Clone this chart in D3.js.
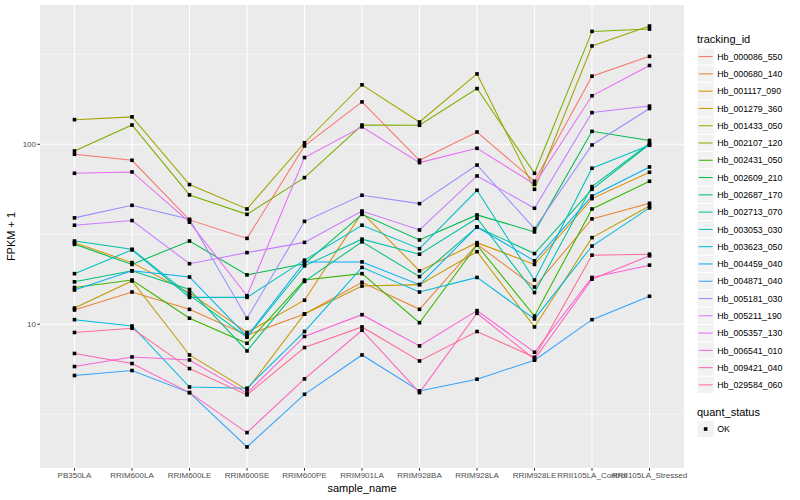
<!DOCTYPE html>
<html>
<head>
<meta charset="utf-8">
<script src="https://cdn.jsdelivr.net/npm/d3@7"></script>
<style>
body { margin: 0; background: #fff; }
text { font-family: "Liberation Sans", Arial, Helvetica, sans-serif; }
</style>
</head>
<body>
<div id="chart"></div>
<script>
var samples = ["PB350LA", "RRIM600LA", "RRIM600LE", "RRIM600SE", "RRIM600PE", "RRIM901LA",
    "RRIM928BA", "RRIM928LA", "RRIM928LE", "RRII105LA_Control", "RRII105LA_Stressed"];

var trackingIds = ["Hb_000086_550", "Hb_000680_140", "Hb_001117_090", "Hb_001279_360", "Hb_001433_050",
    "Hb_002107_120", "Hb_002431_050", "Hb_002609_210", "Hb_002687_170", "Hb_002713_070",
    "Hb_003053_030", "Hb_003623_050", "Hb_004459_040", "Hb_004871_040", "Hb_005181_030",
    "Hb_005211_190", "Hb_005357_130", "Hb_006541_010", "Hb_009421_040", "Hb_029584_060"];

// FPKM + 1, one array per tracking_id, in sample order
var hb_000086_550 = [88.0, 81.5, 38.0, 30.0, 97.9, 172, 81.5, 117, 62.3, 239, 308];
var hb_000680_140 = [12.0, 15.1, 12.1, 8.69, 11.4, 17.1, 12.1, 27.8, 16.1, 38.5, 47.0];
var hb_001117_090 = [28.4, 22.0, 14.9, 9.0, 13.6, 41.7, 19.8, 28.4, 21.5, 49.9, 69.9];
var hb_001279_360 = [12.3, 17.4, 6.75, 4.32, 11.4, 16.3, 16.6, 25.3, 9.66, 30.3, 45.4];
var hb_001433_050 = [137, 142, 59.7, 43.7, 102, 214, 133, 246, 56.2, 352, 454];
var hb_002107_120 = [91.8, 128, 52.3, 40.8, 65.3, 128, 127.5, 204, 69.0, 424, 437];
var hb_002431_050 = [16.0, 17.6, 10.8, 7.84, 17.6, 19.1, 10.2, 27.5, 11.1, 43.7, 62.3];
var hb_002609_210 = [27.8, 21.5, 29.0, 18.8, 21.7, 40.8, 29.4, 40.5, 32.6, 118, 105];
var hb_002687_170 = [17.2, 19.8, 15.6, 7.11, 17.3, 28.7, 18.4, 34.7, 24.7, 56.2, 100];
var hb_002713_070 = [29.0, 26.1, 14.5, 8.47, 21.1, 29.7, 24.5, 38.8, 15.0, 58.2, 101];
var hb_003053_030 = [19.1, 25.9, 14.1, 14.1, 22.7, 35.5, 26.3, 55.5, 17.6, 73.6, 98.7];
var hb_003623_050 = [10.6, 9.78, 4.48, 4.41, 9.11, 20.7, 15.1, 18.2, 10.7, 27.2, 44.3];
var hb_004459_040 = [15.5, 19.8, 18.3, 8.55, 22.2, 22.2, 16.6, 34.7, 22.5, 51.6, 74.8];
var hb_004871_040 = [5.19, 5.53, 4.17, 2.08, 4.08, 6.75, 4.26, 4.95, 6.31, 10.6, 14.3];
var hb_005181_030 = [39.0, 45.8, 38.3, 10.8, 37.3, 52.1, 46.8, 76.7, 34.0, 99.1, 158];
var hb_005211_190 = [35.5, 37.7, 21.7, 25.0, 28.5, 42.6, 33.4, 66.7, 44.1, 150, 163];
var hb_005357_130 = [69.0, 70.2, 36.9, 14.4, 84.4, 125, 79.1, 95.0, 60.0, 186, 274];
var hb_006541_010 = [5.82, 6.58, 6.33, 4.14, 8.55, 11.3, 7.58, 11.9, 6.99, 18.2, 21.3];
var hb_009421_040 = [6.88, 6.05, 4.17, 2.50, 4.97, 9.26, 4.17, 11.5, 6.39, 17.8, 24.0];
var hb_029584_060 = [9.0, 9.50, 5.67, 4.05, 7.42, 9.66, 6.25, 9.11, 6.55, 24.2, 24.5];

var quantStatus = ["OK"];

var yTicks = [10, 100];
var yMinor = [Math.sqrt(10), Math.sqrt(1000), Math.sqrt(100000)];

var series = [hb_000086_550, hb_000680_140, hb_001117_090, hb_001279_360, hb_001433_050,
    hb_002107_120, hb_002431_050, hb_002609_210, hb_002687_170, hb_002713_070,
    hb_003053_030, hb_003623_050, hb_004459_040, hb_004871_040, hb_005181_030,
    hb_005211_190, hb_005357_130, hb_006541_010, hb_009421_040, hb_029584_060].map(function(v, i) {
    return { id: trackingIds[i], values: v };
});

var hues = ["#F8766D", "#EA8331", "#D89000", "#C09B00", "#A3A500", "#7CAE00", "#39B600", "#00BB4E",
    "#00BF7D", "#00C1A3", "#00BFC4", "#00BAE0", "#00B0F6", "#35A2FF", "#9590FF", "#C77CFF",
    "#E76BF3", "#FA62DB", "#FF62BC", "#FF6C91"];

var width = 800;
var height = 500;
var pLeft = 40, pRight = 684, pTop = 5, pBottom = 468;

var svg = d3.select("#chart")
    .append("svg")
    .attr("width", width)
    .attr("height", height);

var color = d3.scaleOrdinal().domain(trackingIds).range(hues);

var xScale = d3.scalePoint()
    .domain(samples)
    .range([pLeft, pRight])
    .padding(0.6);

var allVals = d3.merge(series.map(function(s) { return s.values; }));
var lo = Math.log10(d3.min(allVals));
var hi = Math.log10(d3.max(allVals));
var pad = (hi - lo) * 0.05;

var yScale = d3.scaleLog()
    .domain([Math.pow(10, lo - pad), Math.pow(10, hi + pad)])
    .range([pBottom, pTop]);

// panel
svg.append("rect")
    .attr("x", pLeft).attr("y", pTop)
    .attr("width", pRight - pLeft).attr("height", pBottom - pTop)
    .attr("fill", "#EBEBEB");

svg.append("g").selectAll("line")
    .data(yMinor.filter(function(v) { return yScale(v) > pTop && yScale(v) < pBottom; }))
    .enter().append("line")
    .attr("x1", pLeft).attr("x2", pRight)
    .attr("y1", function(d) { return yScale(d); })
    .attr("y2", function(d) { return yScale(d); })
    .attr("stroke", "#fff").attr("stroke-width", 0.55);

svg.append("g").selectAll("line")
    .data(yTicks)
    .enter().append("line")
    .attr("x1", pLeft).attr("x2", pRight)
    .attr("y1", function(d) { return yScale(d); })
    .attr("y2", function(d) { return yScale(d); })
    .attr("stroke", "#fff").attr("stroke-width", 1.1);

svg.append("g").selectAll("line")
    .data(samples)
    .enter().append("line")
    .attr("x1", function(d) { return xScale(d); })
    .attr("x2", function(d) { return xScale(d); })
    .attr("y1", pTop).attr("y2", pBottom)
    .attr("stroke", "#fff").attr("stroke-width", 1.1);

// lines
var line = d3.line()
    .x(function(d, i) { return xScale(samples[i]); })
    .y(function(d) { return yScale(d); });

svg.append("g").selectAll("path")
    .data(series)
    .enter().append("path")
    .attr("d", function(d) { return line(d.values); })
    .attr("fill", "none")
    .attr("stroke", function(d) { return color(d.id); })
    .attr("stroke-width", 1.05);

// points
var pts = [];
series.forEach(function(s) {
    s.values.forEach(function(v, i) { pts.push({ x: samples[i], y: v }); });
});

svg.append("g").selectAll("rect")
    .data(pts)
    .enter().append("rect")
    .attr("x", function(d) { return xScale(d.x) - 1.8; })
    .attr("y", function(d) { return yScale(d.y) - 1.8; })
    .attr("width", 3.6).attr("height", 3.6)
    .attr("fill", "#000");

// axes
var xAxis = svg.append("g").attr("class", "xAxis");
xAxis.selectAll("line")
    .data(samples)
    .enter().append("line")
    .attr("x1", function(d) { return xScale(d); })
    .attr("x2", function(d) { return xScale(d); })
    .attr("y1", pBottom).attr("y2", pBottom + 2.75)
    .attr("stroke", "#333").attr("stroke-width", 1);
xAxis.selectAll("text")
    .data(samples)
    .enter().append("text")
    .attr("x", function(d) { return xScale(d); })
    .attr("y", pBottom + 10)
    .attr("text-anchor", "middle")
    .attr("font-size", 8)
    .attr("fill", "#4D4D4D")
    .text(function(d) { return d; });

var yAxis = svg.append("g").attr("class", "yAxis");
yAxis.selectAll("line")
    .data(yTicks)
    .enter().append("line")
    .attr("x1", pLeft - 2.75).attr("x2", pLeft)
    .attr("y1", function(d) { return yScale(d); })
    .attr("y2", function(d) { return yScale(d); })
    .attr("stroke", "#333").attr("stroke-width", 1);
yAxis.selectAll("text")
    .data(yTicks)
    .enter().append("text")
    .attr("x", pLeft - 4)
    .attr("y", function(d) { return yScale(d) + 3; })
    .attr("text-anchor", "end")
    .attr("font-size", 8)
    .attr("fill", "#4D4D4D")
    .text(function(d) { return d; });

svg.append("text")
    .attr("x", (pLeft + pRight) / 2)
    .attr("y", 492)
    .attr("text-anchor", "middle")
    .attr("font-size", 11)
    .attr("fill", "#000")
    .text("sample_name");

svg.append("text")
    .attr("transform", "translate(15," + ((pTop + pBottom) / 2) + ")rotate(-90)")
    .attr("text-anchor", "middle")
    .attr("font-size", 11)
    .attr("fill", "#000")
    .text("FPKM + 1");

// legend: tracking_id
var keyX = 697, keySize = 17.28, firstKey = 56.6;

var legend = svg.append("g").attr("class", "legend");
legend.append("text")
    .attr("x", keyX).attr("y", 43)
    .attr("font-size", 11)
    .text("tracking_id");

var entry = legend.selectAll("g.entry")
    .data(trackingIds)
    .enter().append("g")
    .attr("class", "entry")
    .attr("transform", function(d, i) { return "translate(" + keyX + "," + (firstKey + i * keySize) + ")"; });

entry.append("rect")
    .attr("x", 0).attr("y", -keySize / 2)
    .attr("width", keySize).attr("height", keySize)
    .attr("fill", "#F2F2F2").attr("stroke", "#fff").attr("stroke-width", 1);
entry.append("line")
    .attr("x1", 1.7).attr("x2", keySize - 1.7)
    .attr("y1", 0).attr("y2", 0)
    .attr("stroke", function(d) { return color(d); })
    .attr("stroke-width", 1.05);
entry.append("text")
    .attr("x", keySize + 3).attr("y", 3.2)
    .attr("font-size", 8.8)
    .text(function(d) { return d; });

// legend: quant_status
legend.append("text")
    .attr("x", keyX).attr("y", 416)
    .attr("font-size", 11)
    .text("quant_status");

var okEntry = legend.selectAll("g.ok")
    .data(quantStatus)
    .enter().append("g")
    .attr("class", "ok")
    .attr("transform", function(d, i) { return "translate(" + keyX + "," + (429 + i * keySize) + ")"; });
okEntry.append("rect")
    .attr("x", 0).attr("y", -keySize / 2)
    .attr("width", keySize).attr("height", keySize)
    .attr("fill", "#F2F2F2").attr("stroke", "#fff").attr("stroke-width", 1);
okEntry.append("rect")
    .attr("x", keySize / 2 - 1.8).attr("y", -1.8)
    .attr("width", 3.6).attr("height", 3.6)
    .attr("fill", "#000");
okEntry.append("text")
    .attr("x", keySize + 3).attr("y", 3.2)
    .attr("font-size", 8.8)
    .text(function(d) { return d; });
</script>
</body>
</html>
